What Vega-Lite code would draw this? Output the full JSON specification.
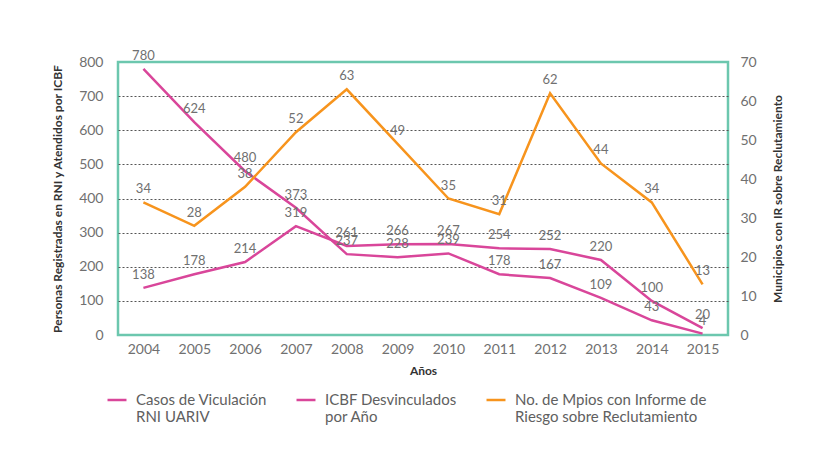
{
  "$schema": "https://vega.github.io/schema/vega-lite/v6.json",
  "width": 610,
  "height": 273,
  "autosize": {"type": "none"},
  "padding": {"left": 118, "top": 62, "right": 102, "bottom": 136},
  "background": "white",
  "config": {
    "font": "Lato",
    "view": {"stroke": "#6cc7ae", "strokeWidth": 2.5, "fill": "white"}
  },
  "data": {
    "values": [
      {"anio": "2004", "serie": "Casos de Viculación RNI UARIV", "valor": 780},
      {"anio": "2005", "serie": "Casos de Viculación RNI UARIV", "valor": 624},
      {"anio": "2006", "serie": "Casos de Viculación RNI UARIV", "valor": 480},
      {"anio": "2007", "serie": "Casos de Viculación RNI UARIV", "valor": 373},
      {"anio": "2008", "serie": "Casos de Viculación RNI UARIV", "valor": 237},
      {"anio": "2009", "serie": "Casos de Viculación RNI UARIV", "valor": 228},
      {"anio": "2010", "serie": "Casos de Viculación RNI UARIV", "valor": 239},
      {"anio": "2011", "serie": "Casos de Viculación RNI UARIV", "valor": 178},
      {"anio": "2012", "serie": "Casos de Viculación RNI UARIV", "valor": 167},
      {"anio": "2013", "serie": "Casos de Viculación RNI UARIV", "valor": 109},
      {"anio": "2014", "serie": "Casos de Viculación RNI UARIV", "valor": 43},
      {"anio": "2015", "serie": "Casos de Viculación RNI UARIV", "valor": 4},
      {"anio": "2004", "serie": "ICBF Desvinculados por Año", "valor": 138},
      {"anio": "2005", "serie": "ICBF Desvinculados por Año", "valor": 178},
      {"anio": "2006", "serie": "ICBF Desvinculados por Año", "valor": 214},
      {"anio": "2007", "serie": "ICBF Desvinculados por Año", "valor": 319},
      {"anio": "2008", "serie": "ICBF Desvinculados por Año", "valor": 261},
      {"anio": "2009", "serie": "ICBF Desvinculados por Año", "valor": 266},
      {"anio": "2010", "serie": "ICBF Desvinculados por Año", "valor": 267},
      {"anio": "2011", "serie": "ICBF Desvinculados por Año", "valor": 254},
      {"anio": "2012", "serie": "ICBF Desvinculados por Año", "valor": 252},
      {"anio": "2013", "serie": "ICBF Desvinculados por Año", "valor": 220},
      {"anio": "2014", "serie": "ICBF Desvinculados por Año", "valor": 100},
      {"anio": "2015", "serie": "ICBF Desvinculados por Año", "valor": 20},
      {"anio": "2004", "serie": "No. de Mpios con Informe de Riesgo sobre Reclutamiento", "valor": 34},
      {"anio": "2005", "serie": "No. de Mpios con Informe de Riesgo sobre Reclutamiento", "valor": 28},
      {"anio": "2006", "serie": "No. de Mpios con Informe de Riesgo sobre Reclutamiento", "valor": 38},
      {"anio": "2007", "serie": "No. de Mpios con Informe de Riesgo sobre Reclutamiento", "valor": 52},
      {"anio": "2008", "serie": "No. de Mpios con Informe de Riesgo sobre Reclutamiento", "valor": 63},
      {"anio": "2009", "serie": "No. de Mpios con Informe de Riesgo sobre Reclutamiento", "valor": 49},
      {"anio": "2010", "serie": "No. de Mpios con Informe de Riesgo sobre Reclutamiento", "valor": 35},
      {"anio": "2011", "serie": "No. de Mpios con Informe de Riesgo sobre Reclutamiento", "valor": 31},
      {"anio": "2012", "serie": "No. de Mpios con Informe de Riesgo sobre Reclutamiento", "valor": 62},
      {"anio": "2013", "serie": "No. de Mpios con Informe de Riesgo sobre Reclutamiento", "valor": 44},
      {"anio": "2014", "serie": "No. de Mpios con Informe de Riesgo sobre Reclutamiento", "valor": 34},
      {"anio": "2015", "serie": "No. de Mpios con Informe de Riesgo sobre Reclutamiento", "valor": 13}
    ]
  },
  "encoding": {
    "x": {
      "field": "anio",
      "type": "ordinal",
      "scale": {"type": "point", "padding": 0.5},
      "axis": {
        "title": "Años",
        "labelAngle": 0,
        "labelColor": "#707070",
        "labelFontSize": 14,
        "labelPadding": 7,
        "ticks": false,
        "domain": false,
        "titleFontWeight": "bold",
        "titleFontSize": 12,
        "titleColor": "#333",
        "titlePadding": 9
      }
    },
    "color": {
      "field": "serie",
      "type": "nominal",
      "scale": {
        "domain": ["Casos de Viculación RNI UARIV", "ICBF Desvinculados por Año", "No. de Mpios con Informe de Riesgo sobre Reclutamiento"],
        "range": ["#d9469a", "#d9469a", "#f7941d"]
      },
      "legend": {
        "title": null,
        "orient": "none",
        "legendX": -12,
        "legendY": 327,
        "direction": "horizontal",
        "columns": 3,
        "symbolType": "stroke",
        "symbolSize": 360,
        "symbolStrokeWidth": 2.5,
        "labelFontSize": 15,
        "labelColor": "#606060",
        "labelLimit": 300,
        "columnPadding": 24,
        "labelOffset": 8,
        "labelExpr": "datum.label == 'Casos de Viculación RNI UARIV' ? ['Casos de Viculación', 'RNI UARIV'] : datum.label == 'ICBF Desvinculados por Año' ? ['ICBF Desvinculados', 'por Año'] : ['No. de Mpios con Informe de', 'Riesgo sobre Reclutamiento']"
      }
    }
  },
  "layer": [
    {
      "transform": [{"filter": "datum.serie != 'No. de Mpios con Informe de Riesgo sobre Reclutamiento'"}],
      "encoding": {
        "y": {
          "field": "valor",
          "type": "quantitative",
          "scale": {"domain": [0, 800]},
          "axis": {
            "orient": "left",
            "values": [0, 100, 200, 300, 400, 500, 600, 700, 800],
            "title": "Personas Registradas en RNI y Atendidos por ICBF",
            "labelColor": "#707070",
            "labelFontSize": 14,
            "labelPadding": 15,
            "ticks": false,
            "domain": false,
            "grid": true,
            "gridColor": "#555",
            "gridDash": [2, 2],
            "gridWidth": 1,
            "gridOpacity": {"condition": {"test": "datum.value == 0 || datum.value == 800", "value": 0}, "value": 1},
            "titleFontWeight": "bold",
            "titleFontSize": 12,
            "titleColor": "#333",
            "titlePadding": 14
          }
        }
      },
      "layer": [
        {"mark": {"type": "line", "strokeWidth": 2.5}},
        {
          "mark": {"type": "text", "dy": -13, "fontSize": 13, "align": "center"},
          "encoding": {"text": {"field": "valor", "type": "quantitative"}, "color": {"value": "#707070"}}
        }
      ]
    },
    {
      "transform": [{"filter": "datum.serie == 'No. de Mpios con Informe de Riesgo sobre Reclutamiento'"}],
      "encoding": {
        "y": {
          "field": "valor",
          "type": "quantitative",
          "scale": {"domain": [0, 70]},
          "axis": {
            "orient": "right",
            "values": [0, 10, 20, 30, 40, 50, 60, 70],
            "title": "Municipios con IR sobre Reclutamiento",
            "titleAngle": 270,
            "labelColor": "#707070",
            "labelFontSize": 14,
            "labelPadding": 12,
            "ticks": false,
            "domain": false,
            "grid": false,
            "titleFontWeight": "bold",
            "titleFontSize": 12,
            "titleColor": "#333",
            "titlePadding": 28
          }
        }
      },
      "layer": [
        {"mark": {"type": "line", "strokeWidth": 2.5}},
        {
          "mark": {"type": "text", "dy": -13, "fontSize": 13, "align": "center"},
          "encoding": {"text": {"field": "valor", "type": "quantitative"}, "color": {"value": "#707070"}}
        }
      ]
    }
  ],
  "resolve": {"scale": {"y": "independent"}}
}
